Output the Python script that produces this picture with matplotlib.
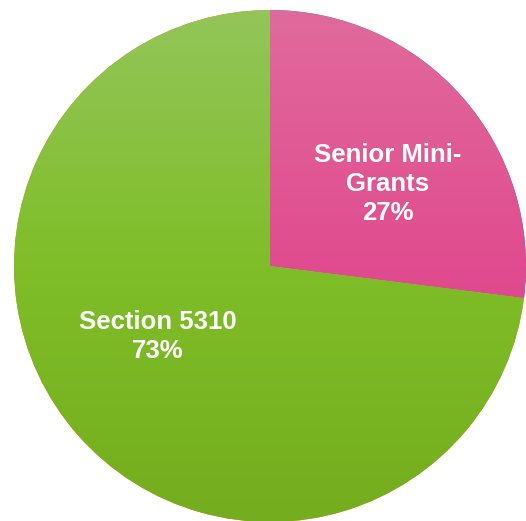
import numpy as np
import matplotlib
matplotlib.use('Agg')
import matplotlib.pyplot as plt
from matplotlib.colors import LinearSegmentedColormap

labels = ["Senior Mini-\nGrants", "Section 5310"]
shares = [27, 73]
top_colors = ["#e06a9c", "#93c55a"]
mid_colors = ["#e04c8f", "#7fbe28"]
bot_colors = ["#d43e80", "#74ad1e"]

plt.rcParams['font.family'] = ['Liberation Sans', 'DejaVu Sans']

fig = plt.figure(figsize=(5.26, 5.21), dpi=100)
ax = fig.add_axes([14/526, -1/521, 512/526, 512/521])

wedges, _ = ax.pie(shares, startangle=90, counterclock=False, radius=1,
                   wedgeprops=dict(linewidth=0))

grad = np.linspace(0, 1, 256).reshape(-1, 1)
for w, c0, c1, c2 in zip(wedges, top_colors, mid_colors, bot_colors):
    cmap = LinearSegmentedColormap.from_list("g", [c0, c1, c2])
    im = ax.imshow(grad, cmap=cmap, extent=[-1, 1, -1, 1], origin='upper',
                   aspect='auto', zorder=2)
    im.set_clip_path(w)

for lab, pct, xy in zip(labels, shares, [(0.46, 0.32), (-0.44, -0.275)]):
    ax.text(xy[0], xy[1], "%s\n%d%%" % (lab, pct), color='white', fontsize=18.5,
            fontweight='bold', ha='center', va='center', linespacing=1.25, zorder=3)

ax.set_xlim(-1, 1)
ax.set_ylim(-1, 1)
ax.set_aspect('equal')
ax.axis('off')
plt.savefig("out.png", dpi=100)
